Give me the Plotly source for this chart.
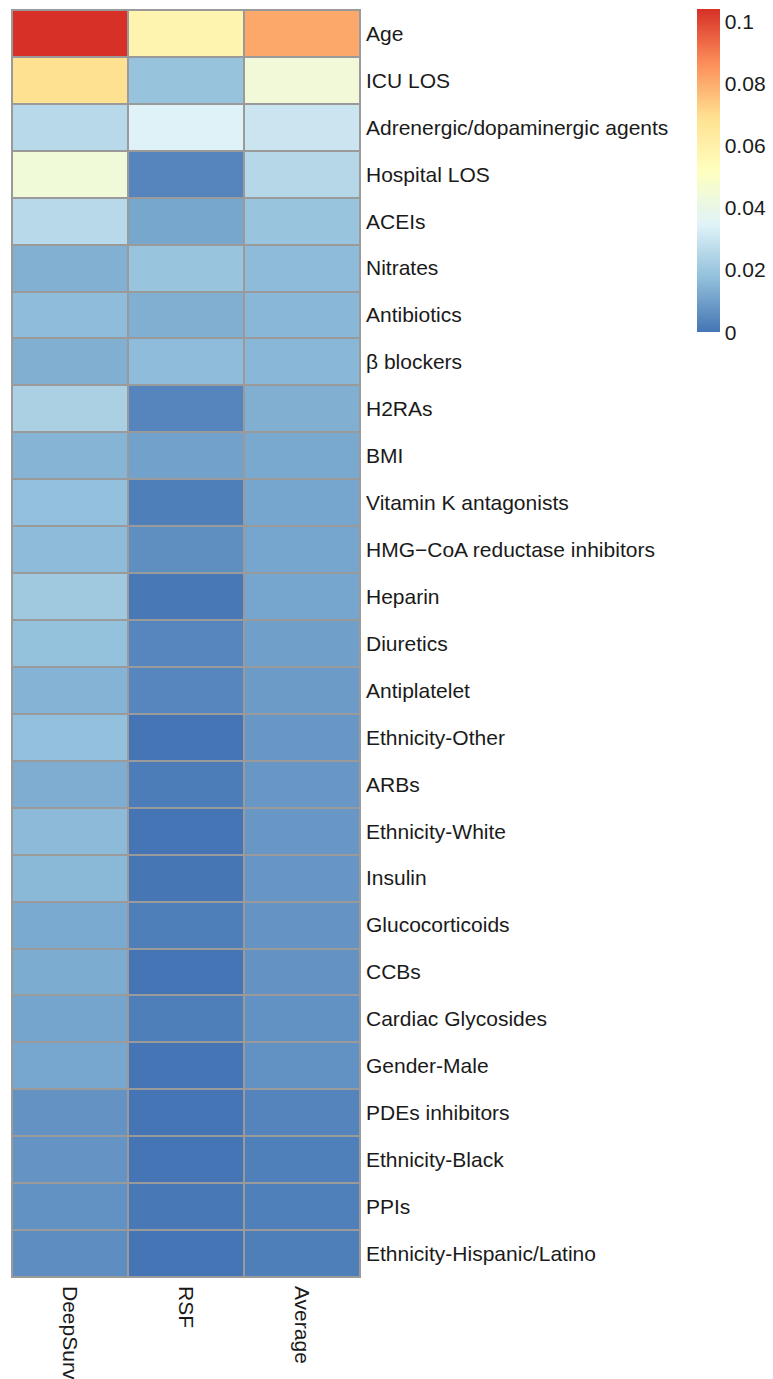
import plotly.graph_objects as go

features = [
    "Age", "ICU LOS", "Adrenergic/dopaminergic agents", "Hospital LOS", "ACEIs",
    "Nitrates", "Antibiotics", "β blockers", "H2RAs", "BMI",
    "Vitamin K antagonists", "HMG−CoA reductase inhibitors", "Heparin", "Diuretics",
    "Antiplatelet", "Ethnicity-Other", "ARBs", "Ethnicity-White", "Insulin",
    "Glucocorticoids", "CCBs", "Cardiac Glycosides", "Gender-Male", "PDEs inhibitors",
    "Ethnicity-Black", "PPIs", "Ethnicity-Hispanic/Latino",
]
models = ["DeepSurv", "RSF", "Average"]

deepsurv = [0.1040, 0.0690, 0.0259, 0.0443, 0.0259, 0.0139, 0.0167, 0.0135, 0.0230, 0.0148,
            0.0178, 0.0164, 0.0206, 0.0180, 0.0146, 0.0178, 0.0132, 0.0162, 0.0157,
            0.0123, 0.0128, 0.0109, 0.0114, 0.0068, 0.0073, 0.0066, 0.0057]
rsf = [0.0580, 0.0187, 0.0344, 0.0037, 0.0116, 0.0189, 0.0135, 0.0167, 0.0037, 0.0103,
       0.0023, 0.0059, 0.0007, 0.0039, 0.0039, 0.0000, 0.0018, 0.0000, 0.0002,
       0.0023, 0.0000, 0.0023, 0.0000, 0.0000, 0.0000, 0.0007, 0.0000]
average = [0.0810, 0.0440, 0.0300, 0.0252, 0.0189, 0.0164, 0.0155, 0.0155, 0.0135, 0.0121,
           0.0112, 0.0112, 0.0112, 0.0098, 0.0089, 0.0080, 0.0080, 0.0080, 0.0078,
           0.0073, 0.0068, 0.0066, 0.0066, 0.0036, 0.0025, 0.0025, 0.0023]

cbar_ticks = [0, 0.02, 0.04, 0.06, 0.08, 0.1]
cbar_labels = ["0", "0.02", "0.04", "0.06", "0.08", "0.1"]

palette = ["#4575B4", "#91BFDB", "#E0F3F8", "#FFFFBF", "#FEE090", "#FC8D59", "#D73027"]
colorscale = [[i / (len(palette) - 1), c] for i, c in enumerate(palette)]

z = [[deepsurv[i], rsf[i], average[i]] for i in range(len(features))]

W, H = 773, 1379
L, R, T, B = 12, 413, 10, 102
grid_color = "#9a9a9a"
font_family = "Liberation Sans, Arial, sans-serif"
fsize = 21

fig = go.Figure(go.Heatmap(
    z=z, x=models, y=features,
    colorscale=colorscale, zmin=0, zmax=0.104,
    xgap=2, ygap=2,
    hoverongaps=False,
    colorbar=dict(
        x=697 / W, xref="container", xanchor="left",
        y=1 - 10 / H, yref="container", yanchor="top",
        len=323, lenmode="pixels", thickness=23, thicknessmode="pixels",
        outlinewidth=0, ticks="", tickvals=cbar_ticks, ticktext=cbar_labels,
        tickfont=dict(size=fsize, color="#1a1a1a", family=font_family),
        ypad=0, xpad=0,
    ),
))

fig.update_layout(
    width=W, height=H,
    margin=dict(l=L, r=R, t=T, b=B, pad=0, autoexpand=False),
    paper_bgcolor="white", plot_bgcolor=grid_color,
    font=dict(family=font_family, size=fsize, color="#1a1a1a"),
    xaxis=dict(side="bottom", tickangle=90, showgrid=False, zeroline=False,
               showline=False, ticks="", ticklabelstandoff=8, automargin=False,
               tickfont=dict(size=fsize)),
    yaxis=dict(side="right", autorange="reversed", showgrid=False, zeroline=False,
               showline=False, ticks="", ticklabelstandoff=5, automargin=False,
               tickfont=dict(size=fsize)),
)

fig.add_shape(type="rect", xref="paper", yref="paper", x0=0, x1=1, y0=0, y1=1,
              line=dict(color=grid_color, width=2), fillcolor="rgba(0,0,0,0)")

fig.write_html("out.html")
